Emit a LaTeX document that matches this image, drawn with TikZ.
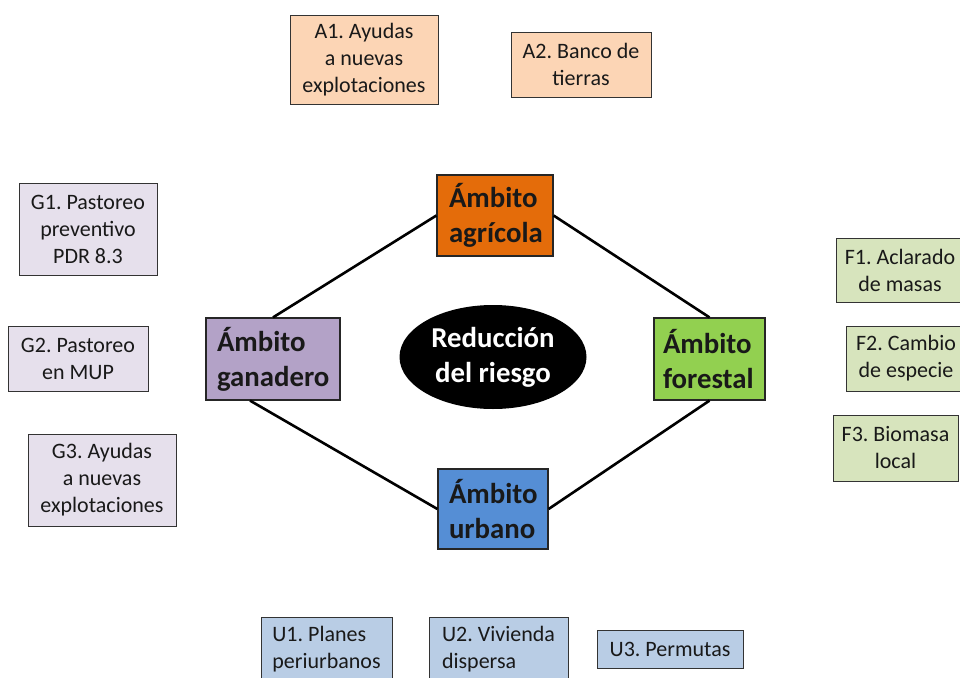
\documentclass[tikz,border=0pt]{standalone}
\usepackage{fontspec}
\setmainfont{Carlito}
\usetikzlibrary{shapes.geometric,calc}
\definecolor{peach}{HTML}{FCD5B5}
\definecolor{lilac}{HTML}{E6E0EC}
\definecolor{sage}{HTML}{D7E4BD}
\definecolor{skyb}{HTML}{B9CDE5}
\definecolor{agrcol}{HTML}{E46C0A}
\definecolor{gancol}{HTML}{B3A2C7}
\definecolor{forcol}{HTML}{92D050}
\definecolor{urbcol}{HTML}{558ED5}
\frenchspacing
\begin{document}
\begin{tikzpicture}[x=1pt,y=-1pt,
  sbox/.style={draw=black!80, line width=0.9pt, font=\fontsize{22}{27}\selectfont, align=center, inner sep=0pt, text=black!90},
  lbox/.style={draw=black!80, line width=0.9pt, font=\fontsize{22}{27}\selectfont, align=left, inner sep=0pt, text=black!90},
  bbox/.style={draw=black!85, line width=1.2pt, font=\bfseries\fontsize{28.8}{35}\selectfont, align=left, inner ysep=0pt, text=black!90},
  link/.style={line width=2.6pt}]
\useasboundingbox (0,0) rectangle (960,677);
\clip (0,0) rectangle (960,677);
% central
\node[bbox, fill=agrcol, inner xsep=12pt, text width=92pt, minimum height=81pt] (agr) at (495,215.5) {Ámbito\\agrícola};
\node[bbox, fill=gancol, inner xsep=11pt, text width=112pt, minimum height=82pt] (gan) at (273,359) {Ámbito\\ganadero};
\node[bbox, fill=forcol, inner xsep=9pt, text width=93pt, minimum height=82pt] (for) at (709.5,359) {Ámbito\\forestal};
\node[bbox, fill=urbcol, inner xsep=11pt, text width=88pt, minimum height=80pt] (urb) at (493,509) {Ámbito\\urbano};
\node[ellipse, fill=black, text=white, minimum width=187pt, minimum height=104pt, inner sep=0pt, align=center, font=\bfseries\fontsize{28.8}{35}\selectfont] (red) at (493,357) {Reducción\\del riesgo};
% connectors
\draw[link] (agr.west) -- (gan.north);
\draw[link] (agr.east) -- (for.north);
\draw[link] ($(gan.south west)!0.33!(gan.south east)$) -- (urb.west);
\draw[link] (urb.east) -- (for.south);
% agricultural
\node[sbox, fill=peach, minimum width=148pt, minimum height=89pt] (a1) at (364,59.5) {A1. Ayudas\\a nuevas\\explotaciones};
\node[sbox, fill=peach, minimum width=140pt, minimum height=65pt] (a2) at (581,64.5) {A2. Banco de\\tierras};
% livestock
\node[sbox, fill=lilac, minimum width=138pt, minimum height=92pt] (g1) at (88,229) {G1. Pastoreo\\preventivo\\PDR 8.3};
\node[sbox, fill=lilac, minimum width=140pt, minimum height=65pt] (g2) at (78,358.5) {G2. Pastoreo\\en MUP};
\node[sbox, fill=lilac, minimum width=148pt, minimum height=92pt] (g3) at (102,480) {G3. Ayudas\\a nuevas\\explotaciones};
% forest
\node[sbox, fill=sage, minimum width=128pt, minimum height=64pt] (f1) at (900,270) {F1. Aclarado\\de masas};
\node[sbox, fill=sage, minimum width=120pt, minimum height=65pt] (f2) at (906,358.5) {F2. Cambio\\de especie};
\node[sbox, fill=sage, minimum width=125pt, minimum height=66pt] (f3) at (895.5,448) {F3. Biomasa\\local};
% urban
\node[lbox, fill=skyb, minimum width=131pt, minimum height=65pt] (u1) at (326.5,649.5) {U1. Planes\\periurbanos};
\node[lbox, fill=skyb, minimum width=139pt, minimum height=65pt] (u2) at (498.5,649.5) {U2. Vivienda\\dispersa};
\node[sbox, fill=skyb, minimum width=146pt, minimum height=38pt] (u3) at (670,649) {U3. Permutas};
\end{tikzpicture}
\end{document}
